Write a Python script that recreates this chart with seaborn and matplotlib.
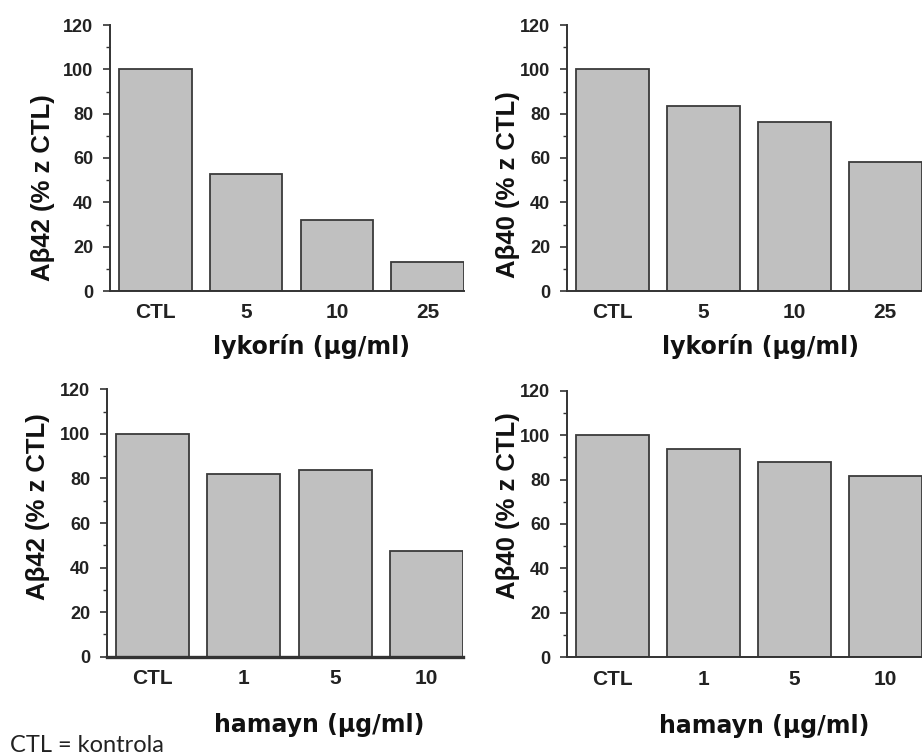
import numpy as np
import pandas as pd
import seaborn as sns
import matplotlib.pyplot as plt
from matplotlib.ticker import MultipleLocator

sns.set_style('white')
plt.rcParams['font.family'] = ['Liberation Sans', 'DejaVu Sans']

# data (% of control)
lyk_doses = ['CTL', '5', '10', '25']
ham_doses = ['CTL', '1', '5', '10']
lyk_ab42 = [100, 53, 32, 13]
lyk_ab40 = [100, 83.4, 76.2, 58]
ham_ab42 = [100, 82, 84, 47.5]
ham_ab40 = [100, 93.8, 87.8, 81.7]

panels = [
    # doses, values, ylabel, xlabel, axes rect, ylabel pos, xlabel pos
    (lyk_doses, lyk_ab42, 'Aβ42 (% z CTL)', 'lykorín (µg/ml)',
     [110/922, 1-291/756, 354/922, 266/756], (-0.19, 0.39), (0.568, -0.21)),
    (lyk_doses, lyk_ab40, 'Aβ40 (% z CTL)', 'lykorín (µg/ml)',
     [566.7/922, 1-291/756, 355/922, 266/756], (-0.165, 0.40), (0.545, -0.21)),
    (ham_doses, ham_ab42, 'Aβ42 (% z CTL)', 'hamayn (µg/ml)',
     [107/922, 1-656.7/756, 356/922, 267.4/756], (-0.194, 0.56), (0.595, -0.255)),
    (ham_doses, ham_ab40, 'Aβ40 (% z CTL)', 'hamayn (µg/ml)',
     [566.7/922, 1-657.3/756, 355/922, 266.6/756], (-0.165, 0.57), (0.556, -0.259)),
]

fig = plt.figure(figsize=(9.22, 7.56), dpi=100)
fig.patch.set_facecolor('white')

for i, (doses, vals, ylab, xlab, rect, ypos, xpos) in enumerate(panels):
    ax = fig.add_axes(rect)
    df = pd.DataFrame({'dose': doses, 'value': vals})
    sns.barplot(data=df, x='dose', y='value', order=doses, color='#c0c0c0',
                edgecolor='#3a3a3a', linewidth=1.3, width=0.8, saturation=1,
                errorbar=None, ax=ax)
    ax.set_xlim(-0.5, 3.4)
    ax.set_ylim(0, 120)
    ax.yaxis.set_major_locator(MultipleLocator(20))
    ax.yaxis.set_minor_locator(MultipleLocator(10))
    for s in ['top', 'right']:
        ax.spines[s].set_visible(False)
    for s in ['left', 'bottom']:
        ax.spines[s].set_color('#333333')
        ax.spines[s].set_linewidth(1.4)
    if i == 2:
        ax.spines['bottom'].set_linewidth(2.4)
    ax.tick_params(axis='y', which='major', length=5, width=1.2, color='#333333',
                   labelsize=13, labelcolor='#222222', pad=7, left=True)
    ax.tick_params(axis='y', which='minor', length=3, width=1.0, color='#333333', left=True)
    ax.tick_params(axis='x', length=0, labelsize=15, labelcolor='#222222', pad=9)
    for lbl in ax.get_xticklabels() + ax.get_yticklabels():
        lbl.set_fontweight('bold')
    ax.set_ylabel(ylab, fontsize=18.5, fontweight='bold', color='#111111', va='center')
    ax.yaxis.set_label_coords(*ypos)
    ax.set_xlabel(xlab, fontsize=17, fontweight='bold', color='#111111',
                  family='DejaVu Sans', va='center')
    ax.xaxis.set_label_coords(*xpos)
    ax.patch.set_alpha(0)

fig.text(10/922, 1-752/756, 'CTL = kontrola', fontsize=17, family='Lato',
         color='#222222', ha='left', va='baseline')

fig.savefig('out.png', dpi=100, facecolor='white')
